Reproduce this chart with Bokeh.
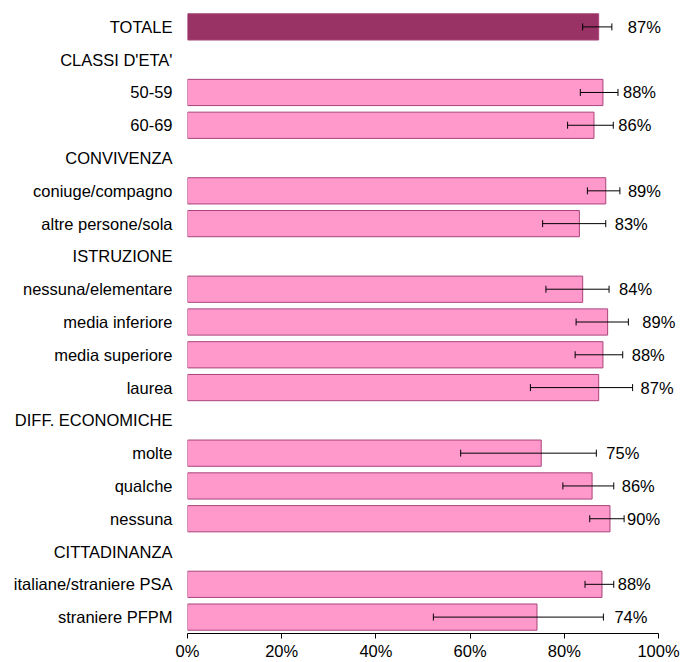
from bokeh.plotting import figure
from bokeh.models import (ColumnDataSource, FactorRange, FixedTicker, PrintfTickFormatter,
                          Whisker, TeeHead, LabelSet)
from bokeh.core.properties import value
from bokeh.embed import file_html
from bokeh.resources import INLINE

# ---- data ----
rows = ["TOTALE", "CLASSI D'ETA'", "50-59", "60-69", "CONVIVENZA", "coniuge/compagno",
        "altre persone/sola", "ISTRUZIONE", "nessuna/elementare", "media inferiore",
        "media superiore", "laurea", "DIFF. ECONOMICHE", "molte", "qualche", "nessuna",
        "CITTADINANZA", "italiane/straniere PSA", "straniere PFPM"]
categories = ["TOTALE", "50-59", "60-69", "coniuge/compagno", "altre persone/sola",
              "nessuna/elementare", "media inferiore", "media superiore", "laurea",
              "molte", "qualche", "nessuna", "italiane/straniere PSA", "straniere PFPM"]
values = [87.3, 88.2, 86.3, 88.8, 83.2, 83.9, 89.2, 88.2, 87.3, 75.1, 85.9, 89.7, 88.0, 74.2]
ci_low = [83.9, 83.4, 80.7, 84.9, 75.4, 76.1, 82.5, 82.3, 72.8, 58.0, 79.7, 85.4, 84.4, 52.2]
ci_high = [90.1, 91.4, 90.4, 91.8, 88.8, 89.5, 93.6, 92.4, 94.5, 86.8, 90.5, 92.7, 90.5, 88.3]
labels = ["87%", "88%", "86%", "89%", "83%", "84%", "89%", "88%", "87%", "75%", "86%", "90%", "88%", "74%"]
x_ticks = [0, 20, 40, 60, 80, 100]

# ---- styles ----
label_offsets = [16, 5, 5, 8, 9, 10, 14, 9, 8, 10, 8, 3, 4, 11]
fills = ["#993366"] + ["#FF99CC"] * (len(categories) - 1)
FONT = "Liberation Sans"
FS = "16.5px"

src = ColumnDataSource(dict(cat=categories, val=values, lo=ci_low, hi=ci_high,
                            lab=labels, off=label_offsets, fill=fills))

# frame spans x=187..680; 0..100 maps to 187..658, extra room on the right for labels
p = figure(width=680, height=662, output_backend="svg", toolbar_location=None,
           y_range=FactorRange(*list(reversed(rows)), range_padding=0),
           x_range=(0, 104.67), min_border_left=187, min_border_right=0,
           min_border_top=10, min_border_bottom=26)

p.hbar(y="cat", right="val", left=0, height=0.8, source=src, fill_color="fill",
       line_color="#A8437A", line_width=1)

w = Whisker(base="cat", lower="lo", upper="hi", dimension="width", source=src,
            line_color="black", line_width=1, level="overlay",
            lower_head=TeeHead(size=7, line_color="black", line_width=1),
            upper_head=TeeHead(size=7, line_color="black", line_width=1))
p.add_layout(w)

ls = LabelSet(x="hi", y="cat", text="lab", x_offset="off", source=src,
              text_baseline="middle", text_align="left", text_font=value(FONT),
              text_font_size=value(FS), text_color="black", level="overlay")
p.add_layout(ls)

p.xaxis.bounds = (0, 100)
p.xaxis.ticker = FixedTicker(ticks=x_ticks)
p.xaxis.formatter = PrintfTickFormatter(format="%d%%")
p.xaxis.major_tick_out = 5
p.xaxis.major_tick_in = 0
p.xaxis.minor_tick_line_color = None
p.xaxis.axis_line_color = "black"
p.xaxis.major_tick_line_color = "black"
p.xaxis.major_label_standoff = 3
p.xaxis.major_label_text_font = FONT
p.xaxis.major_label_text_font_size = FS
p.xaxis.major_label_text_color = "black"

p.yaxis.axis_line_color = None
p.yaxis.major_tick_line_color = None
p.yaxis.minor_tick_line_color = None
p.yaxis.major_tick_out = 0
p.yaxis.major_tick_in = 0
p.yaxis.major_label_standoff = 15
p.yaxis.major_label_text_font = FONT
p.yaxis.major_label_text_font_size = FS
p.yaxis.major_label_text_color = "black"

p.xgrid.grid_line_color = None
p.ygrid.grid_line_color = None
p.outline_line_color = None
p.background_fill_color = "white"
p.border_fill_color = "white"

open("out.html", "w").write(file_html(p, INLINE))
